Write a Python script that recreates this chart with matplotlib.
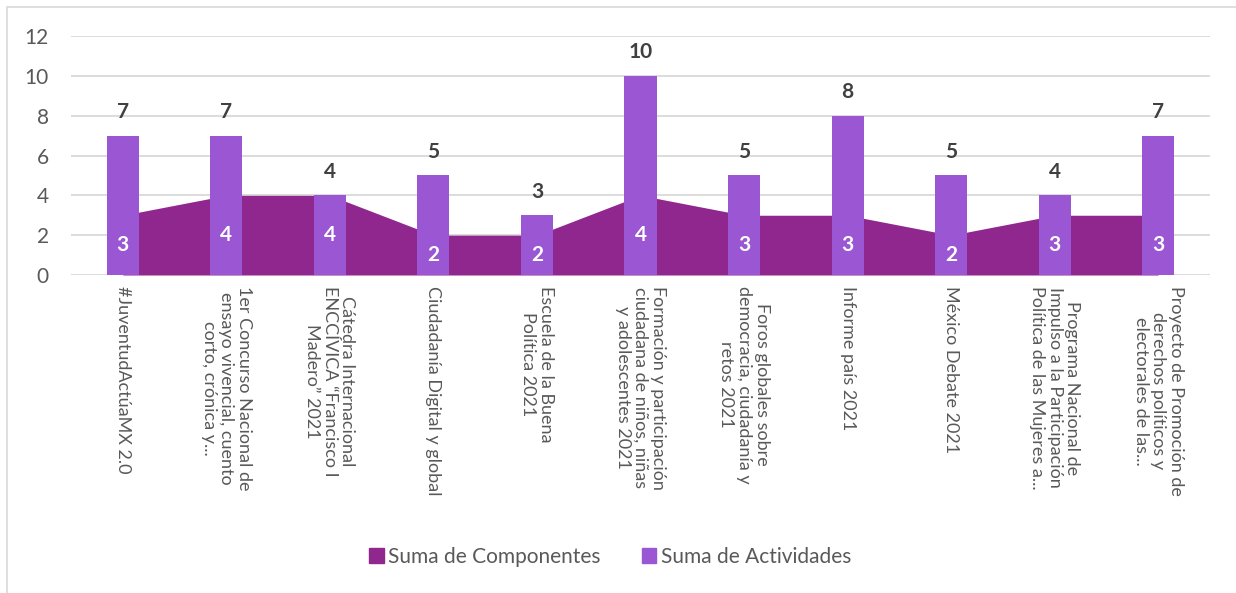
import matplotlib.pyplot as plt
import numpy as np
from matplotlib.patches import Rectangle, Patch

plt.rcParams['font.family'] = ['Lato', 'DejaVu Sans']

# categories as shown on the x axis (already wrapped)
programas = [
    "#JuventudActúaMX 2.0",
    "1er Concurso Nacional de\nensayo vivencial, cuento\ncorto, crónica y...",
    "Cátedra Internacional\nENCCÍVICA “Francisco I\nMadero” 2021",
    "Ciudadanía Digital y global",
    "Escuela de la Buena\nPolítica 2021",
    "Formación y participación\nciudadana de niños, niñas\ny adolescentes 2021",
    "Foros globales sobre\ndemocracia, ciudadanía y\nretos 2021",
    "Informe país 2021",
    "México Debate 2021",
    "Programa Nacional de\nImpulso a la Participación\nPolítica de las Mujeres a...",
    "Proyecto de Promoción de\nderechos políticos y\nelectorales de las...",
]
componentes = [3, 4, 4, 2, 2, 4, 3, 3, 2, 3, 3]
actividades = [7, 7, 4, 5, 3, 10, 5, 8, 5, 4, 7]

col_comp = '#8F278E'
col_act = '#9A56D3'
txt_grey = '#595959'

fig = plt.figure(figsize=(12.36, 5.93), dpi=100)
ax = fig.add_axes([71 / 1236, 1 - 275 / 593, 1139 / 1236, 239 / 593])

x = np.arange(len(programas))
ax.fill_between(x, 0, componentes, color=col_comp, linewidth=0, zorder=2)
bars = ax.bar(x, actividades, width=0.31, color=col_act, zorder=3)

for xi, v in zip(x, actividades):
    ax.annotate(str(v), (xi, v), xytext=(0, 17), textcoords='offset points',
                ha='center', va='center', fontsize=15, fontweight='bold',
                color='#404040', zorder=5)
for xi, v in zip(x, componentes):
    ax.text(xi, v / 2, str(v), ha='center', va='center', fontsize=15,
            fontweight='bold', color='white', zorder=5)

ax.set_xlim(-0.5, len(programas) - 0.5)
ax.set_ylim(0, 12)
ax.set_yticks(range(0, 13, 2))
ax.yaxis.grid(True, color='#d9d9d9', linewidth=1.3, zorder=0)
ax.set_axisbelow(True)
for s in ax.spines.values():
    s.set_visible(False)
ax.tick_params(axis='y', length=0, pad=16, labelsize=15, labelcolor=txt_grey)
ax.tick_params(axis='x', length=0)
ax.set_xticks(x)
ax.set_xticklabels([])

for xi, lab in zip(x, programas):
    ax.text(xi, -0.55, lab, rotation=-90, ha='center', va='top',
            multialignment='center', fontsize=13, color=txt_grey,
            linespacing=1.12, transform=ax.transData, clip_on=False)

handles = [Patch(color=col_comp, label='Suma de Componentes'),
           Patch(color=col_act, label='Suma de Actividades')]
fig.legend(handles=handles, loc='center', ncol=2, frameon=False,
           bbox_to_anchor=(610 / 1236, 1 - 557 / 593), fontsize=15,
           labelcolor=txt_grey, handlelength=0.7, handleheight=0.7,
           handletextpad=0.2, columnspacing=2.0)

# thin chart border
fig.patches.append(Rectangle((7 / 1236, -0.1), 1.2, 1 - 7 / 593 + 0.1,
                             transform=fig.transFigure, fill=False,
                             edgecolor='#d9d9d9', linewidth=1.2))

fig.savefig('out.png', dpi=100)
